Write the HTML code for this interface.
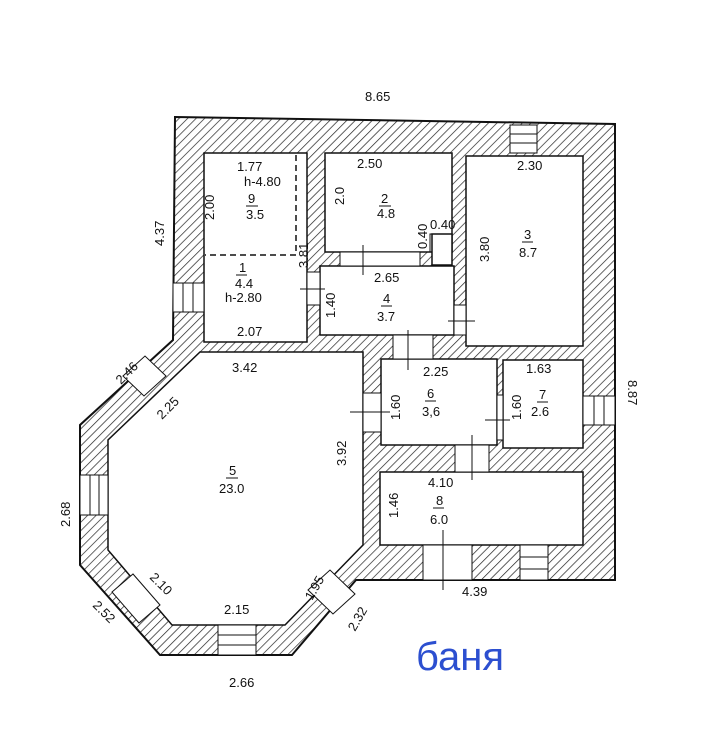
<!DOCTYPE html>
<html><head><meta charset="utf-8"><style>
html,body{margin:0;padding:0;background:#fff;}
svg{display:block;}
text{font-family:"Liberation Sans",sans-serif;font-size:13px;fill:#111;}
</style></head><body>
<svg width="708" height="748" viewBox="0 0 708 748" xmlns="http://www.w3.org/2000/svg">
<defs>
<pattern id="h" width="6" height="6" patternUnits="userSpaceOnUse" patternTransform="rotate(45)">
<rect width="6" height="6" fill="#fff"/><line x1="0" y1="0" x2="0" y2="6" stroke="#222" stroke-width="1.4"/>
</pattern>
</defs>
<path d="M175,117 L615,124 L615,580 L356,580 L292,655 L160,655 L80,565 L80,425 L173,340 Z" fill="url(#h)" stroke="#111" stroke-width="2"/>
<path d="M200,352 L363,352 L363,545 L285,625 L172,625 L108,550 L108,440 Z" fill="#fff" stroke="#111" stroke-width="1.5"/>
<g fill="#fff" stroke="#111" stroke-width="1.5">
<rect x="204" y="153" width="103" height="189"/>
<rect x="325" y="153" width="127" height="99"/>
<rect x="432" y="234" width="20" height="31"/>
<rect x="320" y="266" width="134" height="69"/>
<rect x="466" y="156" width="117" height="190"/>
<rect x="381" y="359" width="116" height="86"/>
<rect x="503" y="360" width="80" height="88"/>
<rect x="380" y="472" width="203" height="73"/>
</g>
<path d="M296,155 L296,255 L205,255" fill="none" stroke="#111" stroke-width="1.5" stroke-dasharray="6,4"/>
<g fill="#fff" stroke="#111" stroke-width="1">
<rect x="510" y="125" width="27" height="28"/>
<rect x="173" y="283" width="31" height="29"/>
<rect x="80" y="475" width="28" height="40"/>
<rect x="218" y="625" width="38" height="30"/>
<rect x="583" y="396" width="32" height="29"/>
<rect x="520" y="545" width="28" height="35"/>
<rect x="423" y="545" width="49" height="35"/>
<rect x="455" y="445" width="34" height="27"/>
<rect x="393" y="335" width="40" height="24"/>
<rect x="363" y="393" width="18" height="39"/>
<rect x="307" y="272" width="13" height="33"/>
<rect x="454" y="305" width="12" height="30"/>
<rect x="340" y="252" width="80" height="14"/>
<rect x="497" y="395" width="6" height="45"/>
</g>
<g stroke="#111" stroke-width="1">
<line x1="510" y1="134" x2="537" y2="134"/><line x1="510" y1="143" x2="537" y2="143"/>
<line x1="183" y1="283" x2="183" y2="312"/><line x1="193" y1="283" x2="193" y2="312"/>
<line x1="90" y1="475" x2="90" y2="515"/><line x1="99" y1="475" x2="99" y2="515"/>
<line x1="218" y1="635" x2="256" y2="635"/><line x1="218" y1="645" x2="256" y2="645"/>
<line x1="594" y1="396" x2="594" y2="425"/><line x1="604" y1="396" x2="604" y2="425"/>
<line x1="520" y1="557" x2="548" y2="557"/><line x1="520" y1="569" x2="548" y2="569"/>
<line x1="443" y1="530" x2="443" y2="590"/>
<line x1="472" y1="435" x2="472" y2="480"/>
<line x1="408" y1="330" x2="408" y2="370"/>
<line x1="350" y1="412" x2="390" y2="412"/>
<line x1="300" y1="289" x2="325" y2="289"/>
<line x1="448" y1="321" x2="475" y2="321"/>
<line x1="363" y1="245" x2="363" y2="275"/>
<line x1="485" y1="420" x2="510" y2="420"/>
</g>
<g fill="#fff" stroke="#111" stroke-width="1">
<polygon points="123,376 145,356 166,376 144,396"/>
<polygon points="112,592 133,574 160,605 139,623"/>
<polygon points="308,590 330,570 355,594 333,614"/>
</g>
<path d="M430,252 L430,234 L452,234" fill="none" stroke="#111"/>
<text x="365" y="101">8.65</text>
<text x="237" y="171">1.77</text>
<text x="244" y="186">h-4.80</text>
<text x="248" y="203">9</text><line x1="246" y1="206" x2="258" y2="206" stroke="#111"/>
<text x="246" y="219">3.5</text>
<text x="239" y="272">1</text><line x1="236" y1="275" x2="247" y2="275" stroke="#111"/>
<text x="235" y="288">4.4</text>
<text x="225" y="302">h-2.80</text>
<text x="237" y="336">2.07</text>
<text x="357" y="168">2.50</text>
<text x="381" y="203">2</text><line x1="379" y1="206" x2="391" y2="206" stroke="#111"/>
<text x="377" y="218">4.8</text>
<text x="430" y="229">0.40</text>
<text x="517" y="170">2.30</text>
<text x="524" y="239">3</text><line x1="522" y1="242" x2="533" y2="242" stroke="#111"/>
<text x="519" y="257">8.7</text>
<text x="374" y="282">2.65</text>
<text x="383" y="303">4</text><line x1="381" y1="306" x2="392" y2="306" stroke="#111"/>
<text x="377" y="321">3.7</text>
<text x="232" y="372">3.42</text>
<text x="423" y="376">2.25</text>
<text x="526" y="373">1.63</text>
<text x="427" y="398">6</text><line x1="425" y1="401" x2="436" y2="401" stroke="#111"/>
<text x="422" y="416">3,6</text>
<text x="539" y="399">7</text><line x1="537" y1="402" x2="548" y2="402" stroke="#111"/>
<text x="531" y="416">2.6</text>
<text x="229" y="475">5</text><line x1="226" y1="478" x2="238" y2="478" stroke="#111"/>
<text x="219" y="493">23.0</text>
<text x="428" y="487">4.10</text>
<text x="436" y="505">8</text><line x1="433" y1="508" x2="444" y2="508" stroke="#111"/>
<text x="430" y="524">6.0</text>
<text x="224" y="614">2.15</text>
<text x="462" y="596">4.39</text>
<text x="229" y="687">2.66</text>
<g>
<text transform="translate(164,246) rotate(-90)">4.37</text>
<text transform="translate(214,220) rotate(-90)">2.00</text>
<text transform="translate(308,268) rotate(-90)">3.81</text>
<text transform="translate(344,205) rotate(-90)">2.0</text>
<text transform="translate(427,249) rotate(-90)">0.40</text>
<text transform="translate(489,262) rotate(-90)">3.80</text>
<text transform="translate(335,318) rotate(-90)">1.40</text>
<text transform="translate(628,380) rotate(90)">8.87</text>
<text transform="translate(400,420) rotate(-90)">1.60</text>
<text transform="translate(521,420) rotate(-90)">1.60</text>
<text transform="translate(346,466) rotate(-90)">3.92</text>
<text transform="translate(398,518) rotate(-90)">1.46</text>
<text transform="translate(70,527) rotate(-90)">2.68</text>
<text transform="translate(121,385) rotate(-45)">2.46</text>
<text transform="translate(162,420) rotate(-45)">2.25</text>
<text transform="translate(149,578) rotate(45)">2.10</text>
<text transform="translate(92,606) rotate(45)">2.52</text>
<text transform="translate(312,601) rotate(-60)">1.95</text>
<text transform="translate(355,632) rotate(-60)">2.32</text>
</g>
<text x="416" y="670" style="font-size:40px;fill:#2c4fd0">баня</text>
</svg>
</body></html>
